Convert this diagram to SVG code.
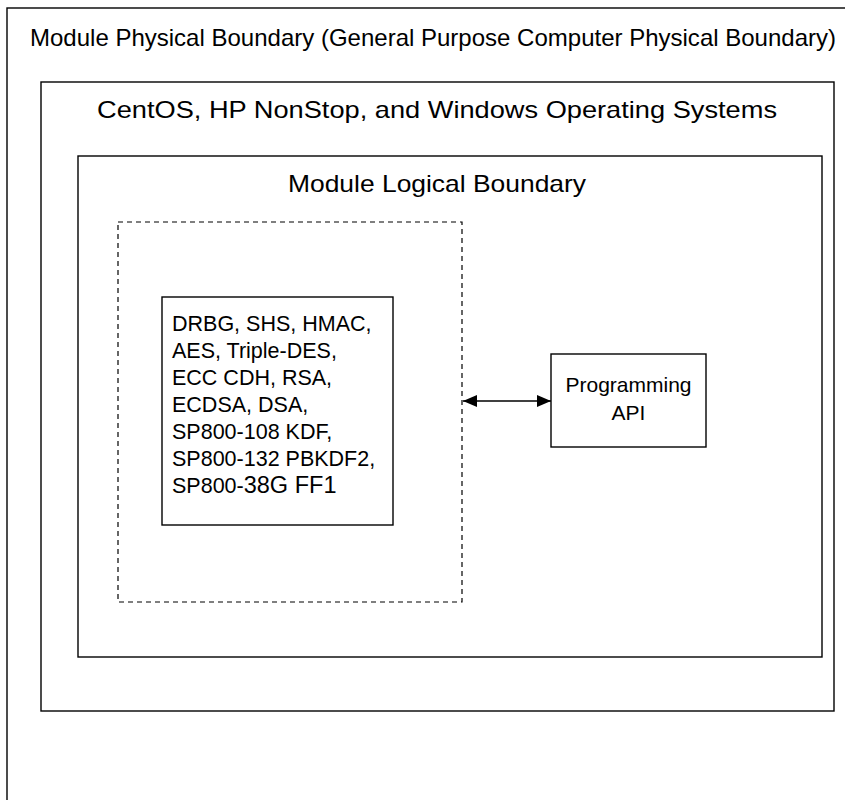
<svg xmlns="http://www.w3.org/2000/svg" width="845" height="800" viewBox="0 0 845 800">
<defs>
<style>
.box{fill:none;stroke:#000;stroke-width:1.4}
.dash{fill:none;stroke:#000;stroke-width:1.2;stroke-dasharray:5,4}
.t{font-family:"Liberation Sans",Arial,sans-serif;fill:#000}
.ttl{font-size:24px}
.alg{font-size:21.5px}
.api{font-size:21px;text-anchor:middle}
.conn{stroke:#000;stroke-width:1.5;fill:none}
</style>
<marker id="ah" viewBox="0 0 14 12" refX="14" refY="6" markerWidth="14" markerHeight="12" markerUnits="userSpaceOnUse" orient="auto-start-reverse">
<path d="M0,0 L14,6 L0,12 Z" fill="#000"/>
</marker>
</defs>
<rect width="845" height="800" fill="#fff"/>
<g id="physical">
<rect class="box" x="7" y="8" width="850" height="810"/>
<text class="t ttl" x="30" y="46" textLength="806" lengthAdjust="spacingAndGlyphs">Module Physical Boundary (General Purpose Computer Physical Boundary)</text>
</g>
<g id="os">
<rect class="box" x="41" y="82" width="793" height="629"/>
<text class="t ttl" x="97" y="118" textLength="680" lengthAdjust="spacingAndGlyphs">CentOS, HP NonStop, and Windows Operating Systems</text>
</g>
<g id="logical">
<rect class="box" x="78" y="156" width="744" height="501"/>
<text class="t ttl" x="288" y="192" textLength="298" lengthAdjust="spacingAndGlyphs">Module Logical Boundary</text>
</g>
<g id="crypto-boundary">
<rect class="dash" x="118" y="222" width="344" height="380"/>
</g>
<g id="algorithms">
<rect class="box" x="162" y="297" width="231" height="228"/>
<text class="t alg">
<tspan x="172" y="331">DRBG, SHS, HMAC,</tspan>
<tspan x="172" y="358">AES, Triple-DES,</tspan>
<tspan x="172" y="385">ECC CDH, RSA,</tspan>
<tspan x="172" y="412">ECDSA, DSA,</tspan>
<tspan x="172" y="439">SP800-108 KDF,</tspan>
<tspan x="172" y="466">SP800-132 PBKDF2,</tspan>
<tspan x="172" y="493">SP800-<tspan style="font-size:23.5px">38G FF1</tspan></tspan>
</text>
</g>
<g id="api">
<rect class="box" x="551" y="354" width="155" height="93"/>
<text class="t api" x="628.5" y="392">Programming</text>
<text class="t api" x="628.5" y="420">API</text>
</g>
<g id="connectors">
<line class="conn" x1="463" y1="401" x2="551" y2="401" marker-start="url(#ah)" marker-end="url(#ah)"/>
</g>
</svg>
